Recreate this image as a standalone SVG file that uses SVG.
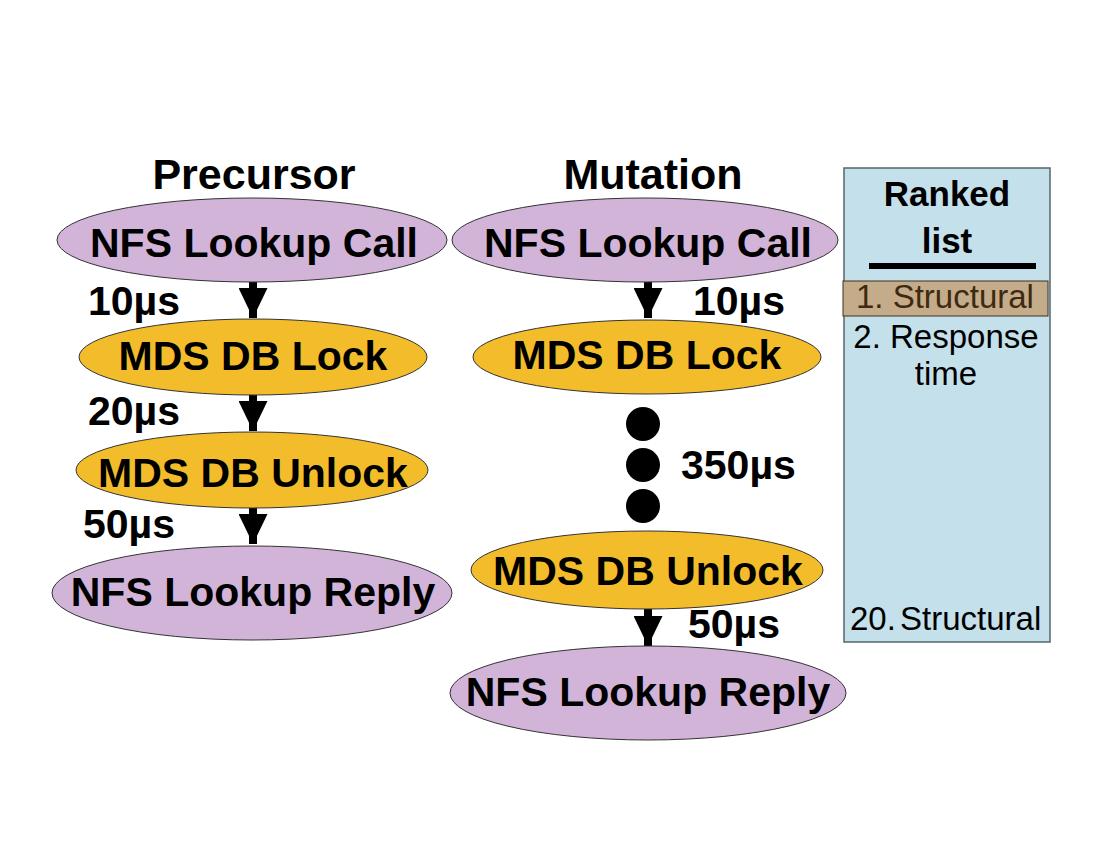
<svg xmlns="http://www.w3.org/2000/svg" width="1099" height="849" viewBox="0 0 1099 849">
<style>
.title{font-family:"Liberation Sans",Arial,sans-serif;font-weight:bold;font-size:43px;fill:#000;text-anchor:middle}
.lbl{font-family:"Liberation Sans",Arial,sans-serif;font-weight:bold;font-size:41px;fill:#000;text-anchor:middle}
.lat{font-family:"Liberation Sans",Arial,sans-serif;font-weight:bold;font-size:41px;fill:#000}
.nfs{fill:#d2b4d8;stroke:#333;stroke-width:1}
.mds{fill:#f3bc2a;stroke:#333;stroke-width:1}
.conn{stroke:#000;stroke-width:8;fill:none;marker-end:url(#ah)}
.rk{font-family:"Liberation Sans",Arial,sans-serif;font-size:33px;fill:#000}
.rkb{font-family:"Liberation Sans",Arial,sans-serif;font-weight:bold;font-size:35px;fill:#000;text-anchor:middle}
</style>
<defs>
<marker id="ah" viewBox="0 0 30 29" refX="30" refY="14.5" markerWidth="30" markerHeight="29" markerUnits="userSpaceOnUse" orient="auto">
<path d="M0,0 L30,14.5 L0,29 z" fill="#000"/>
</marker>
</defs>
<rect width="1099" height="849" fill="#fff"/>

<text class="title" x="254" y="189">Precursor</text>
<text class="title" x="653" y="189">Mutation</text>

<g id="connectors">
<line class="conn" x1="253" y1="281" x2="253" y2="318"/>
<line class="conn" x1="253" y1="394" x2="253" y2="431"/>
<line class="conn" x1="253" y1="507" x2="253" y2="544"/>
<line class="conn" x1="648" y1="281" x2="648" y2="318"/>
<line class="conn" x1="648" y1="607" x2="648" y2="646"/>
</g>

<g id="p-call"><ellipse class="nfs" cx="252" cy="240" rx="195" ry="42"/><text class="lbl" x="254" y="257">NFS Lookup Call</text></g>
<g id="p-lock"><ellipse class="mds" cx="253" cy="357" rx="174" ry="38"/><text class="lbl" x="253" y="370">MDS DB Lock</text></g>
<g id="p-unlock"><ellipse class="mds" cx="252" cy="470" rx="176" ry="38"/><text class="lbl" x="253" y="487">MDS DB Unlock</text></g>
<g id="p-reply"><ellipse class="nfs" cx="252" cy="593" rx="200" ry="47"/><text class="lbl" x="253" y="606">NFS Lookup Reply</text></g>

<g id="p-lat">
<text class="lat" x="88" y="315">10µs</text>
<text class="lat" x="88" y="425">20µs</text>
<text class="lat" x="83" y="538">50µs</text>
</g>

<g id="m-call"><ellipse class="nfs" cx="645" cy="240" rx="193" ry="42"/><text class="lbl" x="648" y="257">NFS Lookup Call</text></g>
<g id="m-lock"><ellipse class="mds" cx="647" cy="357" rx="174" ry="37"/><text class="lbl" x="647" y="369">MDS DB Lock</text></g>
<g id="m-dots">
<circle cx="643" cy="424" r="17" fill="#000"/>
<circle cx="643" cy="465" r="17" fill="#000"/>
<circle cx="643" cy="506" r="17" fill="#000"/>
</g>
<g id="m-unlock"><ellipse class="mds" cx="647" cy="570" rx="176" ry="39"/><text class="lbl" x="648" y="585">MDS DB Unlock</text></g>
<g id="m-reply"><ellipse class="nfs" cx="648" cy="693" rx="198" ry="47"/><text class="lbl" x="648" y="706">NFS Lookup Reply</text></g>

<g id="m-lat">
<text class="lat" x="693" y="315">10µs</text>
<text class="lat" x="681" y="479">350µs</text>
<text class="lat" x="688" y="638">50µs</text>
</g>

<g id="ranked-list">
<rect x="844" y="168" width="206" height="474" fill="#c4e0ea" stroke="#56656b" stroke-width="1.5"/>
<text class="rkb" x="947" y="206">Ranked</text>
<text class="rkb" x="947" y="253">list</text>
<line x1="869" y1="266" x2="1036" y2="266" stroke="#000" stroke-width="6"/>
<rect x="843" y="281" width="205" height="35" fill="#c4ab89" stroke="#3a3020" stroke-width="1"/>
<text class="rk" x="856" y="308" style="fill:#3d2a10">1. Structural</text>
<text class="rk" x="946" y="348" text-anchor="middle">2. Response</text>
<text class="rk" x="946" y="385" text-anchor="middle">time</text>
<text class="rk" x="850" y="630">20.<tspan x="900">Structural</tspan></text>
</g>
</svg>
